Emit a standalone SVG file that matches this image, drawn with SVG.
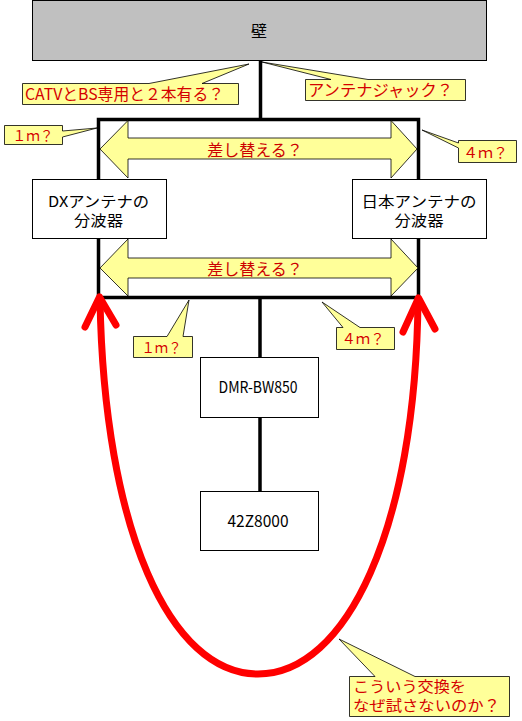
<svg xmlns="http://www.w3.org/2000/svg" width="522" height="721" viewBox="0 0 522 721">
<style>
text{font-family:"Noto Sans CJK JP","Noto Sans",sans-serif;font-size:16px}
.ml{font-size:15px}
.node{fill:#fff;stroke:#000;stroke-width:1}
.wall{fill:#c0c0c0;stroke:#000;stroke-width:1}
.lbl{fill:#000;text-anchor:middle}
.frame{fill:none;stroke:#000;stroke-width:3.5}
.wire{stroke:#000;stroke-width:3.5}
.darrow{fill:#ffff99;stroke:#000;stroke-width:0.8}
.callout{fill:#ffff99;stroke:#000;stroke-width:0.8;stroke-linejoin:miter}
.ctext{fill:#d40000}
.small{font-size:14px}
.atext{fill:#cc0000;text-anchor:middle}
.red{fill:none;stroke:#ff0000;stroke-width:7;stroke-linecap:round;stroke-linejoin:round}
</style>
<rect width="522" height="721" fill="#fff"/>

<g id="connectors">
<line class="wire" x1="260.5" y1="60" x2="260.5" y2="119"/>
<polyline class="frame" points="98.5,297.5 98.5,119.5 418.5,119.5 418.5,297.5"/>
<line class="wire" x1="97" y1="297.5" x2="420" y2="297.5"/>
<line class="wire" x1="260" y1="297" x2="260" y2="358"/>
<line class="wire" x1="260" y1="417" x2="260" y2="492"/>
</g>

<g id="swap-arrows">
<polygon class="darrow" points="100,149 128,120.5 128,138 391,138 391,120.5 417,149 391,178 391,159 128,159 128,178"/>
<text class="atext" x="255" y="156">差し替える？</text>
<polygon class="darrow" points="100,268 128,239 128,258 391,258 391,239 418,268 391,296 391,278 128,278 128,296"/>
<text class="atext" x="255" y="274.5">差し替える？</text>
</g>

<g id="wall">
<rect class="wall" x="32.5" y="0.5" width="454" height="60"/>
<text class="lbl" x="259" y="37">壁</text>
</g>

<g id="dx">
<rect class="node" x="32.5" y="179.5" width="134" height="59"/>
<text class="lbl ml" x="98.5" y="206.5" textLength="101" lengthAdjust="spacingAndGlyphs">DXアンテナの</text>
<text class="lbl ml" x="98.5" y="225.5" textLength="49" lengthAdjust="spacingAndGlyphs">分波器</text>
</g>

<g id="nihon">
<rect class="node" x="352.5" y="179.5" width="134" height="59"/>
<text class="lbl ml" x="419" y="206.5" textLength="115" lengthAdjust="spacingAndGlyphs">日本アンテナの</text>
<text class="lbl ml" x="419" y="225.5" textLength="49" lengthAdjust="spacingAndGlyphs">分波器</text>
</g>

<g id="dmr">
<rect class="node" x="200.5" y="357.5" width="118" height="60"/>
<text class="lbl" x="258" y="393" textLength="79" lengthAdjust="spacingAndGlyphs">DMR-BW850</text>
</g>

<g id="tv">
<rect class="node" x="200.5" y="491.5" width="118" height="59"/>
<text class="lbl" x="258" y="527" textLength="61" lengthAdjust="spacingAndGlyphs">42Z8000</text>
</g>

<g id="red-loop">
<path class="red" d="M100,299 C104,530 170,674 258,674 C346,674 416,530 418,299"/>
<polyline class="red" points="85,327 99.5,297 116,325"/>
<polyline class="red" points="403,332 418.5,298 435,329"/>
</g>

<g id="callouts">
<path class="callout" d="M22.5,83.5 H149 L249,64 L202,83.5 H238.5 V104.5 H22.5 Z"/>
<text class="ctext" x="25" y="99.5" textLength="199" lengthAdjust="spacingAndGlyphs">CATVとBS専用と２本有る？</text>

<path class="callout" d="M305.5,79.5 H331 L262,62 L368,79.5 H465.5 V100.5 H305.5 Z"/>
<text class="ctext" x="308" y="95.5" textLength="145" lengthAdjust="spacingAndGlyphs">アンテナジャック？</text>

<path class="callout" d="M4.5,125.5 H62.5 V131 L97,128 L62.5,137 V144.5 H4.5 Z"/>
<text class="ctext small" x="12.5" y="140.5" textLength="41" lengthAdjust="spacingAndGlyphs">１ｍ？</text>

<path class="callout" d="M458.5,140.5 H516.5 V162.5 H458.5 V148 L422,130 L458.5,143 Z"/>
<text class="ctext small" x="463" y="157.5" textLength="45" lengthAdjust="spacingAndGlyphs">４ｍ？</text>

<path class="callout" d="M133.5,336.5 H167 L189,300 L183,336.5 H192.5 V357.5 H133.5 Z"/>
<text class="ctext small" x="141.5" y="352.5" textLength="40" lengthAdjust="spacingAndGlyphs">１ｍ？</text>

<path class="callout" d="M336.5,327.5 H343 L322,302 L360,327.5 H394.5 V349.5 H336.5 Z"/>
<text class="ctext small" x="341.5" y="343.5" textLength="43" lengthAdjust="spacingAndGlyphs">４ｍ？</text>

<path class="callout" d="M349.5,676.5 H375 L339,639 L415,676.5 H509.5 V716.5 H349.5 Z"/>
<text class="ctext ml" x="353" y="691.5" textLength="113" lengthAdjust="spacingAndGlyphs">こういう交換を</text>
<text class="ctext ml" x="353" y="710.5" textLength="147" lengthAdjust="spacingAndGlyphs">なぜ試さないのか？</text>
</g>
</svg>
